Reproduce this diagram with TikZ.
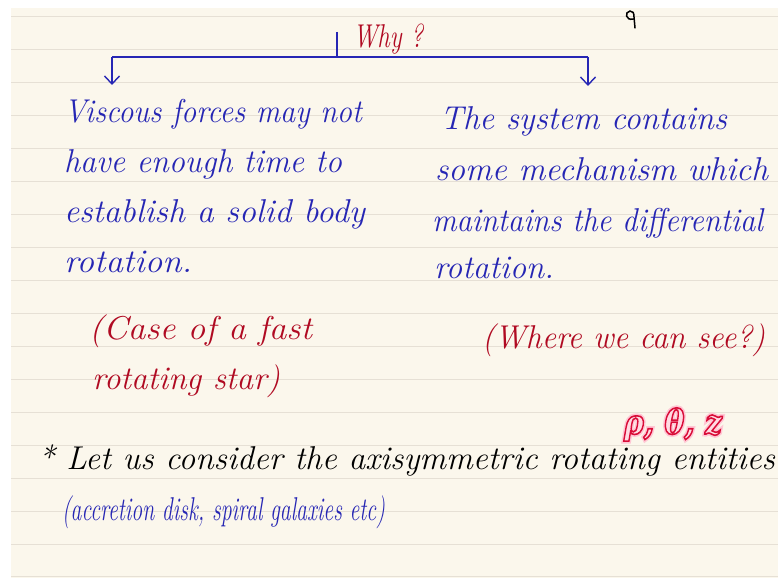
\documentclass[tikz,border=0pt]{standalone}
\usepackage{fontspec}
\usepackage{graphicx}
\usetikzlibrary{arrows.meta}
\newfontfamily\grk{DejaVu Serif}
\definecolor{paper}{HTML}{FBF7EC}
\definecolor{rulec}{HTML}{E6E0D5}
\definecolor{inkblue}{HTML}{2626B4}
\definecolor{inkred}{HTML}{B00A22}
\newcommand\hw[3][33]{\resizebox{#2pt}{\height}{\fontsize{#1}{#1}\selectfont\itshape #3}}
\tikzset{
  hand/.style={anchor=base west, inner sep=0pt, outer sep=0pt},
  blueink/.style={hand, text=inkblue},
  redink/.style={hand, text=inkred},
  blackink/.style={hand, text=black},
  conn/.style={draw=inkblue, line width=1.4pt},
  arr/.style={conn, -{Straight Barb[length=8pt,width=15pt,line width=1.4pt]}},
  rulel/.style={draw=rulec, line width=1pt}
}
\begin{document}
\begin{tikzpicture}[x=1pt,y=-1pt]
\useasboundingbox (0,0) rectangle (778,580);
\fill[white] (0,0) rectangle (778,580);
\fill[paper] (11,8) rectangle (778,578);
\foreach \k in {0,...,17} \draw[rulel] (11,{17+32.94*\k}) -- (778,{17+32.94*\k});

% stray pen mark
\draw[black, line width=1.5pt, line cap=round] (633,19) .. controls (626,21) and (624,12) .. (630,11) .. controls (633,11) and (634,13) .. (634,17) -- (635,28);

% why
\node[redink] (why) at (353,48) {\hw{70}{Why ?}};
\coordinate (ttop) at (337,32);
\coordinate (tj) at (337,57);
\coordinate (jl) at (112,57);
\coordinate (jr) at (588,57);
\coordinate (al) at (112,85);
\coordinate (ar) at (588,86);
\draw[conn] (ttop) -- (tj);
\draw[conn] (jl) -- (jr);
\draw[arr] (jl) -- (al);
\draw[arr] (jr) -- (ar);

% left column
\node[blueink] (l1) at (64,123) {\hw{298}{Viscous forces may not}};
\node[blueink] (l2) at (64,173) {\hw{278}{have enough time to}};
\node[blueink] (l3) at (64,222) {\hw{301}{establish a solid body}};
\node[blueink] (l4) at (64,272) {\hw{128}{rotation.}};
\node[redink] (l5) at (89,339) {\hw{223}{(Case of a fast}};
\node[redink] (l6) at (92,389) {\hw{188}{rotating star)}};

% right column
\node[blueink] (r1) at (440,130) {\hw{287}{The system contains}};
\node[blueink] (r2) at (435,181) {\hw{333}{some mechanism which}};
\node[blueink] (r3) at (432,231) {\hw{331}{maintains the differential}};
\node[blueink] (r4) at (434,278) {\hw{120}{rotation.}};
\node[redink] (r5) at (482,348) {\hw{283}{(Where we can see?)}};

% glowing coordinates (outlined text with a soft pink halo)
\node[hand] (coords) at (624,434) {\resizebox{98pt}{\height}{\fontsize{34}{36}\selectfont\grk\itshape\bfseries
  \rlap{\special{pdf:code 2 Tr 5 w 1 0.78 0.83 RG 1 0.78 0.83 rg}ρ, θ, z}%
  \special{pdf:code 2 Tr 1.6 w 0.85 0.05 0.22 RG 1 0.86 0.89 rg}ρ, θ, z\special{pdf:code 0 Tr}}};

% bottom
\node[blackink] (b1) at (38,469) {\hw{737}{* Let us consider the axisymmetric rotating entities}};
\node[blueink] (b2) at (62,520) {\hw[33]{323}{(accretion disk, spiral galaxies etc)}};
\end{tikzpicture}
\end{document}
